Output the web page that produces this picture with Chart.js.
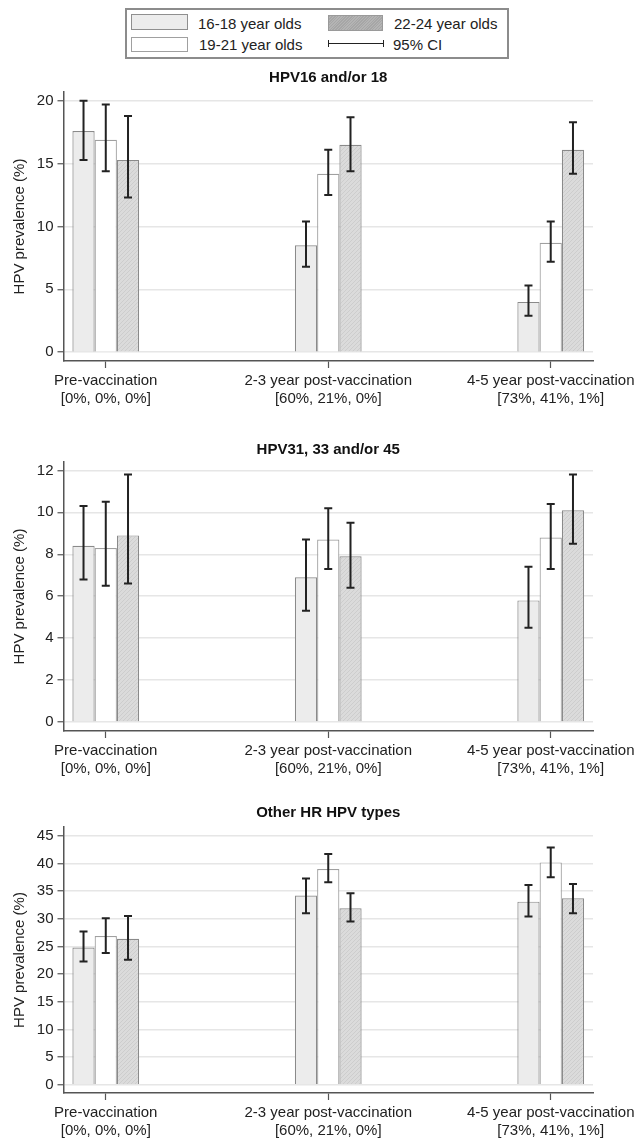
<!DOCTYPE html>
<html>
<head>
<meta charset="utf-8">
<script src="https://cdn.jsdelivr.net/npm/chart.js@4.4.1/dist/chart.umd.min.js"></script>
<style>
  html, body { margin: 0; padding: 0; background: #fff; overflow: hidden; }
  body { width: 635px; height: 1142px; position: relative; font-family: 'Liberation Sans', Arial, sans-serif; color: #222; }
  .panel { position: absolute; left: 0; width: 635px; }
  #legend { position: absolute; left: 125px; top: 8px; width: 380px; height: 47px; border: 2px solid #8c8c8c; }
  .sw { position: absolute; box-sizing: border-box; border: 1px solid #8f8f8f; }
  .lt { position: absolute; font-size: 15px; line-height: 18px; white-space: nowrap; color: #222; }
  .ci { position: absolute; height: 0; border-top: 1.5px solid #222; }
  .ci:before, .ci:after { content: ''; position: absolute; top: -4px; height: 7px; border-left: 1.5px solid #222; }
  .ci:before { left: 0; }
  .ci:after { right: 0; }
</style>
</head>
<body>

<div id="legend"></div>

<div class="panel" style="top:60px;height:350px"><canvas id="chart1"></canvas></div>
<div class="panel" style="top:432px;height:348px"><canvas id="chart2"></canvas></div>
<div class="panel" style="top:795px;height:347px"><canvas id="chart3"></canvas></div>

<script>
// categories (x axis, two lines each)
const periods = ['Pre-vaccination', '2-3 year post-vaccination', '4-5 year post-vaccination'];
const coverage = ['[0%, 0%, 0%]', '[60%, 21%, 0%]', '[73%, 41%, 1%]'];
const ageGroups = ['16-18 year olds', '19-21 year olds', '22-24 year olds'];

// HPV16 and/or 18
const hpv1618_a = [17.6, 8.5, 4.0];
const hpv1618_aLo = [15.3, 6.8, 2.9];
const hpv1618_aHi = [20.0, 10.4, 5.3];
const hpv1618_b = [16.9, 14.2, 8.7];
const hpv1618_bLo = [14.4, 12.5, 7.2];
const hpv1618_bHi = [19.7, 16.1, 10.4];
const hpv1618_c = [15.3, 16.5, 16.1];
const hpv1618_cLo = [12.3, 14.4, 14.2];
const hpv1618_cHi = [18.8, 18.7, 18.3];

// HPV31, 33 and/or 45
const hpv3145_a = [8.4, 6.9, 5.8];
const hpv3145_aLo = [6.8, 5.3, 4.5];
const hpv3145_aHi = [10.3, 8.7, 7.4];
const hpv3145_b = [8.3, 8.7, 8.8];
const hpv3145_bLo = [6.5, 7.3, 7.3];
const hpv3145_bHi = [10.5, 10.2, 10.4];
const hpv3145_c = [8.9, 7.9, 10.1];
const hpv3145_cLo = [6.6, 6.4, 8.5];
const hpv3145_cHi = [11.8, 9.5, 11.8];

// Other HR HPV types
const otherHR_a = [24.8, 34.2, 33.1];
const otherHR_aLo = [22.3, 31.0, 30.4];
const otherHR_aHi = [27.7, 37.3, 36.1];
const otherHR_b = [26.9, 39.0, 40.2];
const otherHR_bLo = [23.8, 36.6, 37.5];
const otherHR_bHi = [30.1, 41.7, 42.9];
const otherHR_c = [26.4, 31.9, 33.7];
const otherHR_cLo = [22.6, 29.5, 31.0];
const otherHR_cHi = [30.5, 34.6, 36.3];

const FONT = "'Liberation Sans', Arial, sans-serif";

// light hatch used for the 22-24 group
function makeHatch(base, line) {
    const c = document.createElement('canvas');
    c.width = 4;
    c.height = 4;
    const g = c.getContext('2d');
    g.fillStyle = base;
    g.fillRect(0, 0, 4, 4);
    g.fillStyle = line;
    for (let i = 0; i < 4; i++) g.fillRect(i, 3 - i, 1, 1);
    return g.createPattern(c, 'repeat');
}
const hatch = makeHatch('#dbdbdb', '#cdcdcd');

const fills = ['#ececec', '#ffffff', hatch];
const borders = ['#8a8a8a', '#a0a0a0', '#8a8a8a'];

// legend (2 x 2 box above the panels)
function buildLegend() {
    const lg = document.getElementById('legend');
    lg.innerHTML =
        '<div class="sw" style="left:4px;top:4px;width:57px;height:16px;background:#ececec"></div>' +
        '<div class="lt" style="left:71px;top:5px">' + ageGroups[0] + '</div>' +
        '<div class="sw" style="left:4px;top:27px;width:57px;height:15px;background:#fff;border-color:#a0a0a0"></div>' +
        '<div class="lt" style="left:72px;top:26px">' + ageGroups[1] + '</div>' +
        '<div class="sw" style="left:201px;top:5px;width:55px;height:16px;background:repeating-linear-gradient(135deg,#a6a6a6 0 1px,#b4b4b4 1px 2px);border-color:#9a9a9a"></div>' +
        '<div class="lt" style="left:267px;top:5px">' + ageGroups[2] + '</div>' +
        '<div class="ci" style="left:201px;top:33px;width:56px"></div>' +
        '<div class="lt" style="left:266px;top:26px">95% CI</div>';
}

const errorBars = {
    id: 'errorBars',
    afterDatasetsDraw(chart) {
        const ctx = chart.ctx;
        const yScale = chart.scales.y;
        ctx.save();
        ctx.strokeStyle = '#222';
        ctx.lineWidth = 2;
        chart.data.datasets.forEach((ds, i) => {
            const meta = chart.getDatasetMeta(i);
            meta.data.forEach((bar, j) => {
                const x = bar.x;
                const yLo = yScale.getPixelForValue(ds.lo[j]);
                const yHi = yScale.getPixelForValue(ds.hi[j]);
                ctx.beginPath();
                ctx.moveTo(x, yLo);
                ctx.lineTo(x, yHi);
                ctx.moveTo(x - 4, yLo);
                ctx.lineTo(x + 4, yLo);
                ctx.moveTo(x - 4, yHi);
                ctx.lineTo(x + 4, yHi);
                ctx.stroke();
            });
        });
        ctx.restore();
    }
};

function drawPanel(id, title, series, yMin, yMax, step, titlePad) {
    const datasets = series.map((s, k) => ({
        label: ageGroups[k],
        data: s.values.map((v, i) => ({ x: i, y: v })),
        lo: s.lo,
        hi: s.hi,
        backgroundColor: fills[k],
        borderColor: borders[k],
        borderWidth: 1.2,
        categoryPercentage: 0.3,
        barPercentage: 1.0
    }));

    new Chart(document.getElementById(id), {
        type: 'bar',
        data: { datasets: datasets },
        options: {
            responsive: true,
            maintainAspectRatio: false,
            animation: false,
            layout: { padding: { left: 0, right: 42, top: 0, bottom: 0 } },
            plugins: {
                legend: { display: false },
                tooltip: { enabled: false },
                title: {
                    display: true,
                    text: title,
                    fullSize: false,
                    color: '#111',
                    font: { family: FONT, size: 15, weight: 'bold' },
                    padding: titlePad
                }
            },
            scales: {
                x: {
                    type: 'linear',
                    offset: false,
                    min: -0.19,
                    max: 2.19,
                    grid: {
                        offset: false,
                        drawOnChartArea: false,
                        drawTicks: true,
                        tickLength: 7,
                        tickColor: '#555',
                        tickWidth: 1.2
                    },
                    border: { display: true, color: '#555', width: 1.5 },
                    ticks: {
                        stepSize: 1,
                        includeBounds: false,
                        autoSkip: false,
                        maxRotation: 0,
                        padding: 4,
                        color: '#222',
                        font: { family: FONT, size: 15, lineHeight: 1.2 },
                        callback: (v) => Number.isInteger(v) && periods[v] ? [periods[v], coverage[v]] : ''
                    },
                    afterFit: (scale) => {
                        scale.height = 49;
                        scale.paddingLeft = 0;
                        scale.paddingRight = 0;
                    }
                },
                y: {
                    min: yMin,
                    max: yMax,
                    grid: {
                        color: '#e6e6e6',
                        lineWidth: 1.5,
                        drawTicks: true,
                        tickLength: 6,
                        tickColor: '#555',
                        tickWidth: 1.2
                    },
                    border: { display: true, color: '#555', width: 1.5 },
                    ticks: {
                        stepSize: step,
                        includeBounds: false,
                        padding: 4,
                        color: '#222',
                        font: { family: FONT, size: 15 }
                    },
                    title: {
                        display: true,
                        text: 'HPV prevalence (%)',
                        color: '#222',
                        font: { family: FONT, size: 15 },
                        padding: { top: 11, bottom: 0 }
                    },
                    afterFit: (scale) => {
                        scale.width = 63.5;
                        scale.paddingTop = 0;
                        scale.paddingBottom = 0;
                    }
                }
            }
        },
        plugins: [errorBars]
    });
}

buildLegend();

drawPanel('chart1', 'HPV16 and/or 18', [
    { values: hpv1618_a, lo: hpv1618_aLo, hi: hpv1618_aHi },
    { values: hpv1618_b, lo: hpv1618_bLo, hi: hpv1618_bHi },
    { values: hpv1618_c, lo: hpv1618_cLo, hi: hpv1618_cHi }
], -0.7, 20.7, 5, { top: 9, bottom: 5 });

drawPanel('chart2', 'HPV31, 33 and/or 45', [
    { values: hpv3145_a, lo: hpv3145_aLo, hi: hpv3145_aHi },
    { values: hpv3145_b, lo: hpv3145_bLo, hi: hpv3145_bHi },
    { values: hpv3145_c, lo: hpv3145_cLo, hi: hpv3145_cHi }
], -0.43, 12.4, 2, { top: 9, bottom: 3 });

drawPanel('chart3', 'Other HR HPV types', [
    { values: otherHR_a, lo: otherHR_aLo, hi: otherHR_aHi },
    { values: otherHR_b, lo: otherHR_bLo, hi: otherHR_bHi },
    { values: otherHR_c, lo: otherHR_cLo, hi: otherHR_cHi }
], -1.5, 46.6, 5, { top: 9, bottom: 5 });
</script>
</body>
</html>
